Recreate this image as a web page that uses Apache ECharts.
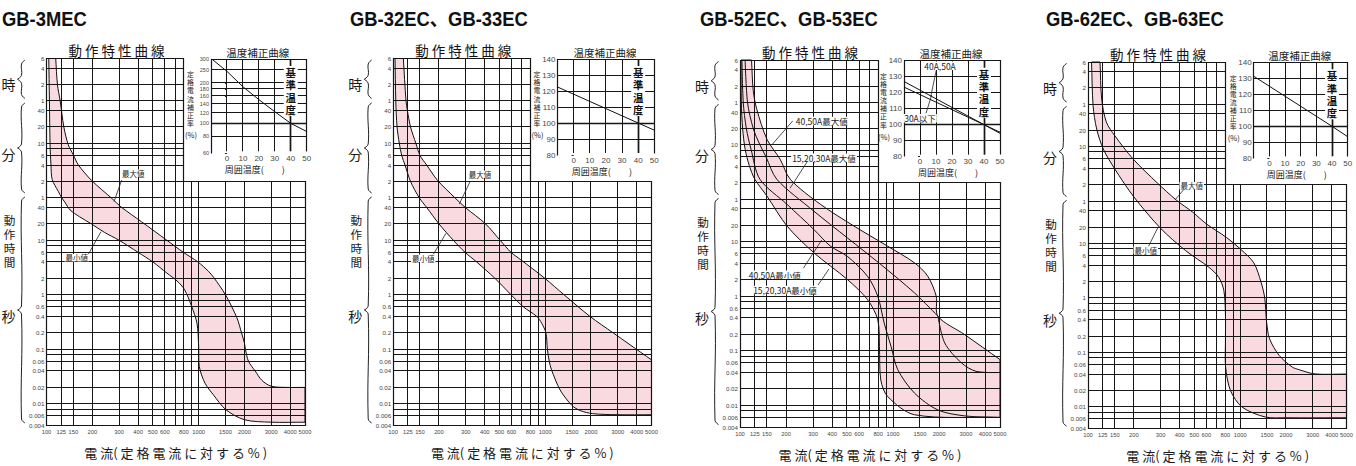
<!DOCTYPE html>
<html lang="ja">
<head>
<meta charset="utf-8">
<title>動作特性曲線</title>
<script src="https://cdn.jsdelivr.net/npm/echarts@6/dist/echarts.min.js"></script>
<style>
html,body{margin:0;padding:0;background:#ffffff;}
#chart{width:1356px;height:466px;}
</style>
</head>
<body>
<div id="chart"></div>
<script>
// ================= DATA =================
// main chart: current (% of rated) vs operating time (seconds)
const X_TICKS = [100,125,150,200,300,400,500,600,800,1000,1500,2000,3000,4000,5000];
const X_TICK_LABELS = ['100','125','150','200','300','400','500','600','800','1000','1500','2000','3000','4000','5000'];
const X_GRID = [125,150,200,300,400,500,600,700,800,900,1000,1500,2000,3000,4000];
const Y_TICKS = [21600,14400,7200,3600,2400,1200,600,360,240,120,60,40,20,10,6,4,2,1,0.6,0.4,0.2,0.1,0.06,0.04,0.02,0.01,0.006,0.004];
const Y_TICK_LABELS = ['6','4','2','1','40','20','10','6','4','2','1','40','20','10','6','4','2','1','0.6','0.4','0.2','0.1','0.06','0.04','0.02','0.01','0.006','0.004'];
const Y_GRID = [14400,7200,3600,2400,1200,600,480,360,240,120,60,40,20,10,8,6,4,2,1,0.8,0.6,0.4,0.2,0.1,0.08,0.06,0.04,0.02,0.01,0.008,0.006];
const X_MIN = 100, X_MAX = 5000, Y_MIN = 0.004, Y_MAX = 21600, CUT_X = 800, CUT_Y = 120;

// temperature correction insets
const T_X_TICKS = [0,10,20,30,40,50];
const T_X_GRID = [0,10,20,30,40];
const T_X_MIN = -10, T_X_MAX = 50, T_REF_X = 40, T_REF_Y = 100;
const T1_Y_TICKS = [60,80,100,120,140,160,180,200,250,300];
const T_Y_TICKS = [80,90,100,110,120,130,140];

// GB-3MEC
const P1_MAX = [[115,21600],[118,7200],[123,3600],[130,1200],[139,565],[150,370],[162,240],[198,125],[270,58],[312,40],[420,22],[618,10],[794,6],[990,4],[1160,2.7],[1253,2.1],[1500,1],[1783,0.38],[1914,0.2],[2000,0.13],[2030,0.1],[2127,0.06],[2354,0.04],[2600,0.027],[3000,0.021],[3800,0.02],[5000,0.02]];
const P1_MIN = [[103.5,21600],[104.5,3600],[105.5,600],[107,240],[109,130],[119.6,78.6],[126,60],[132,50],[142.8,36],[165,27],[197,20],[240,14],[300,10],[400,6],[500,4],[618,2.5],[720,1.8],[808,1.24],[900,0.61],[975,0.3],[1000,0.113],[1010,0.048],[1100,0.024],[1250,0.0146],[1510,0.0078],[2000,0.0051],[3000,0.0046],[5000,0.0046]];
const P1_TEMP = [[-9.5,300],[0,243],[10,187],[20,150],[30,122],[40,100],[50,87]];

// GB-32EC, GB-33EC
const P2_MAX = [[116.6,21600],[121.4,3600],[124,2400],[130,1200],[141,600],[150,360],[166,240],[196,125],[255,60],[298,40],[405,20],[505,10],[596,6],[690,4.4],[995,2],[1330,1],[1972,0.4],[2800,0.2],[3613,0.121],[5000,0.064]];
const P2_MIN = [[102.8,21600],[104,3600],[106,1200],[109.7,600],[113.7,360],[119.6,240],[130,120],[148.5,60],[166,40],[200,20],[248.6,10],[297,6],[354,4],[467,2],[596,1],[718,0.6],[880,0.4],[948,0.3],[1010,0.2],[1033,0.1],[1063,0.06],[1100,0.042],[1252,0.018],[1500,0.0093],[1700,0.0075],[2050,0.0066],[3000,0.0063],[5000,0.0063]];
const P2_TEMP = [[-10,122.5],[40,100],[50,95.5]];

// GB-52EC, GB-53EC
const P3_MAX_4050 = [[119,21600],[122,6000],[128.8,2680],[150,760],[183,326],[213,140],[336,48.5],[556,19.4],[922,8.3],[1383,4.1],[1687,2.33],[1916,1],[1966,0.43],[2178,0.139],[2800,0.06],[3490,0.042],[5000,0.04]];
const P3_MAX_1530 = [[108,21600],[112,3600],[122,1200],[135,600],[148,360],[174,140],[304,36.4],[503,11.8],[832,3.83],[1383,1.15],[1966,0.43],[2940,0.198],[5000,0.069]];
const P3_MIN_4050 = [[103,21600],[105,3600],[110,1200],[118,500],[135,140],[203,48.5],[304,16.8],[390,8.3],[503,5.4],[681,2.33],[795,1],[876,0.32],[971,0.12],[1074,0.045],[1383,0.0167],[1966,0.0082],[2940,0.0064],[5000,0.006]];
const P3_MIN_1530 = [[101.5,21600],[102,3600],[104,1200],[108,500],[115,250],[125,140],[150,69],[203,19.4],[304,6.28],[503,2.03],[681,0.87],[795,0.37],[815,0.12],[832,0.029],[922,0.0145],[1383,0.0067],[5000,0.006]];
const P3_TEMP_4050 = [[-10,127],[40,100],[50,94.6]];
const P3_TEMP_30 = [[-10,123.5],[40,100],[50,95.3]];

// GB-62EC, GB-63EC
const P4_MAX = [[120,21600],[123,4500],[132,1700],[150,955],[198,357],[285,130],[380,63],[489,37.4],[600,22.9],[810,13],[1020,7.6],[1230,4.4],[1372,1.94],[1450,1],[1490,0.37],[1560,0.178],[1807,0.0876],[2200,0.0537],[2447,0.048],[3100,0.0402],[5000,0.04]];
const P4_MIN = [[105.5,21600],[108,3400],[114,1270],[126,544],[150,234],[200,72],[300,19],[438,7.4],[623,3.66],[723,2.4],[781,1.37],[800,0.51],[800,0.15],[802,0.054],[863,0.02],[1029,0.0099],[1463,0.0065],[2000,0.0063],[5000,0.0063]];
const P4_TEMP = [[-10,131.3],[40,100],[50,93.5]];

// ================= STYLE =================
const PINK = '#f9dae0';
const INK = '#111111';
const GRID_C = '#161616';
const LABEL_C = '#474747';
const NUM_FONT = "'Liberation Sans',Arial,sans-serif";
const CJK = "'Noto Sans CJK JP','Noto Sans CJK SC',sans-serif";
const SMOOTH = 0.3;

function splitAtShared(a, b) {
  const ia = a.findIndex(p => b.some(q => q[0] === p[0] && q[1] === p[1]));
  const ib = b.findIndex(q => q[0] === a[ia][0] && q[1] === a[ia][1]);
  return { upper: a.slice(0, ia + 1).concat(b.slice(ib + 1)), restA: a.slice(ia), restB: b.slice(0, ib + 1) };
}
const P3_SPLIT = splitAtShared(P3_MAX_4050, P3_MAX_1530);

const PANELS = [
  { title: 'GB-3MEC', titleX: 2,
    main: { left: 46.5, top: 58.5, width: 258.5, height: 367 },
    inset: { left: 211, top: 59, width: 95.7, height: 94.3 },
    tLog: true, tTicks: T1_Y_TICKS, tFont: 5.5,
    fillUpper: P1_MAX, fillLower: P1_MIN, inner: [], temp: [P1_TEMP],
    notes: [
      { t: '最大値', x: 133.3, y: 173.3, l: [121.7, 180, 114, 201.7] },
      { t: '最小値', x: 76.7, y: 257.7, l: [88.3, 254.3, 101, 231.7] }
    ] },
  { title: 'GB-32EC、GB-33EC', titleX: 350,
    main: { left: 393.2, top: 58.5, width: 258.3, height: 367 },
    inset: { left: 557.5, top: 59, width: 96.8, height: 96 },
    tLog: false, tTicks: T_Y_TICKS, tFont: 8,
    fillUpper: P2_MAX, fillLower: P2_MIN, inner: [], temp: [P2_TEMP],
    notes: [
      { t: '最大値', x: 480, y: 174.3, l: [470, 181.7, 459.3, 204] },
      { t: '最小値', x: 423.3, y: 258.3, l: [433.3, 254.3, 446, 233.3] }
    ] },
  { title: 'GB-52EC、GB-53EC', titleX: 700,
    main: { left: 740, top: 60, width: 260, height: 367 },
    inset: { left: 904, top: 60.7, width: 96, height: 96 },
    tLog: false, tTicks: T_Y_TICKS, tFont: 8,
    fillUpper: P3_SPLIT.upper, fillLower: P3_MIN_1530,
    inner: [P3_SPLIT.restA, P3_SPLIT.restB, P3_MIN_4050],
    temp: [P3_TEMP_4050, P3_TEMP_30],
    notes: [
      { t: '40,50A最大値', x: 821.7, y: 121, l: [792.7, 121, 771.7, 145], big: true },
      { t: '15,20,30A最大値', x: 824, y: 157.7, l: [808.3, 160, 790, 188.3], big: true },
      { t: '40,50A最小値', x: 774.7, y: 274.7, l: [803.3, 268.3, 821.7, 240], big: true },
      { t: '15,20,30A最小値', x: 785, y: 290, l: [818, 285, 829, 269], big: true },
      { t: '40A,50A', x: 940, y: 65.7, l: [936.7, 68.3, 930.7, 96.7], big: true },
      { t: '30A以下', x: 920, y: 118.3, l: [926, 113.3, 931.7, 95], big: true }
    ] },
  { title: 'GB-62EC、GB-63EC', titleX: 1046,
    main: { left: 1088, top: 62, width: 259.5, height: 366.5 },
    inset: { left: 1253.7, top: 62.3, width: 94, height: 96 },
    tLog: false, tTicks: T_Y_TICKS, tFont: 8,
    fillUpper: P4_MAX, fillLower: P4_MIN, inner: [], temp: [P4_TEMP],
    notes: [
      { t: '最大値', x: 1191.7, y: 185.7, l: [1183.3, 190, 1175, 200] },
      { t: '最小値', x: 1145.8, y: 250, l: [1148.3, 246.7, 1158.3, 226.7] }
    ] }
];

// ================= HELPERS =================
function pickLabel(v, vals, labels) {
  let best = 0, bd = Infinity;
  for (let i = 0; i < vals.length; i++) {
    const d = Math.abs(Math.log(vals[i]) - Math.log(v));
    if (d < bd) { bd = d; best = i; }
  }
  return labels[best];
}
// keep custom tick values strictly inside the axis extent (floating-point safety)
function inside(vals, lo, hi) {
  return vals.map(v => v >= hi ? hi - Math.abs(hi) * 1e-9 : (v <= lo ? lo + Math.abs(lo) * 1e-9 : v));
}
const crisp = v => Math.round(v - 0.5) + 0.5;
function seg(x1, y1, x2, y2, w, c) {
  return { type: 'line', silent: true, shape: { x1, y1, x2, y2 }, style: { stroke: c || GRID_C, lineWidth: w || 1, fill: 'none' } };
}

function mainRenderer(cfg) {
  return function (params, api) {
    const pt = d => api.coord(d);
    const children = [];
    const u = cfg.fillUpper.map(pt);
    const l = cfg.fillLower.map(pt).reverse();
    const ring = [u[0]].concat(u, [u[u.length - 1], l[0]], l, [l[l.length - 1]]);
    children.push({ type: 'polygon', silent: true, shape: { points: ring, smooth: SMOOTH }, style: { fill: PINK, stroke: 'none' } });
    X_GRID.forEach(v => {
      const top = v <= CUT_X ? Y_MAX : CUT_Y;
      const a = pt([v, Y_MIN]), b = pt([v, top]);
      const x = crisp(a[0]);
      children.push(seg(x, a[1], x, b[1], 1));
    });
    Y_GRID.forEach(h => {
      const right = h > CUT_Y ? CUT_X : X_MAX;
      const a = pt([X_MIN, h]), b = pt([right, h]);
      const y = crisp(a[1]);
      children.push(seg(a[0], y, b[0], y, 1));
    });
    const border = [[X_MIN, Y_MIN], [X_MAX, Y_MIN], [X_MAX, CUT_Y], [CUT_X, CUT_Y], [CUT_X, Y_MAX], [X_MIN, Y_MAX]]
      .map(pt).map(p => [crisp(p[0]), crisp(p[1])]);
    children.push({ type: 'polygon', silent: true, shape: { points: border }, style: { fill: 'none', stroke: GRID_C, lineWidth: 1.2 } });
    children.push({ type: 'polygon', silent: true, shape: { points: ring, smooth: SMOOTH }, style: { fill: 'none', stroke: INK, lineWidth: 1 } });
    cfg.inner.forEach(arr => {
      children.push({ type: 'polyline', silent: true, shape: { points: arr.map(pt), smooth: SMOOTH }, style: { fill: 'none', stroke: INK, lineWidth: 1 } });
    });
    return { type: 'group', children };
  };
}

function insetRenderer(cfg) {
  return function (params, api) {
    const pt = d => api.coord(d);
    const ticks = cfg.tTicks;
    const yMin = ticks[0], yMax = ticks[ticks.length - 1];
    const children = [];
    T_X_GRID.forEach(v => {
      const a = pt([v, yMin]), b = pt([v, yMax]);
      const x = crisp(a[0]);
      children.push(seg(x, a[1] - 2, x, b[1], v === T_REF_X ? 1.7 : 1));
    });
    ticks.filter(h => h > yMin && h < yMax).forEach(h => {
      const a = pt([T_X_MIN, h]), b = pt([T_X_MAX, h]);
      const y = crisp(a[1]);
      children.push(seg(a[0], y, b[0], y, h === T_REF_Y ? 1.7 : 1));
    });
    const border = [[T_X_MIN, yMin], [T_X_MIN, yMax], [T_X_MAX, yMax], [T_X_MAX, yMin]].map(pt).map(p => [crisp(p[0]), crisp(p[1])]);
    border[3][1] -= 2;
    children.push({ type: 'polyline', silent: true, shape: { points: border }, style: { fill: 'none', stroke: GRID_C, lineWidth: 1.2 } });
    cfg.temp.forEach(arr => {
      children.push({ type: 'polyline', silent: true, shape: { points: arr.map(pt) }, style: { fill: 'none', stroke: INK, lineWidth: 1 } });
    });
    return { type: 'group', children };
  };
}

function txt(text, x, y, s) {
  return { type: 'text', z: 100, silent: true,
    style: Object.assign({ text, x, y, fill: '#1a1a1a', font: '12px ' + CJK, align: 'center', verticalAlign: 'middle' }, s || {}) };
}
function brace(xr, y1, y2) {
  const xs = xr - 3.5, xc = xr - 7.5, ym = (y1 + y2) / 2;
  const st = { stroke: '#222', lineWidth: 1, fill: 'none' };
  return [
    { type: 'polyline', z: 100, silent: true, shape: { points: [[xr, y1], [xs, y1 + 4], [xs, ym - 4], [xc, ym]], smooth: 0.4 }, style: st },
    { type: 'polyline', z: 100, silent: true, shape: { points: [[xc, ym], [xs, ym + 4], [xs, y2 - 4], [xr, y2]], smooth: 0.4 }, style: st }
  ];
}

// ================= OPTION =================
const grids = [], xAxes = [], yAxes = [], series = [], graphics = [];

PANELS.forEach(p => {
  const M = p.main, I = p.inset;
  // main chart
  const gi = grids.length;
  grids.push({ left: M.left, top: M.top, width: M.width, height: M.height });
  xAxes.push({ gridIndex: gi, type: 'log', logBase: 10, min: X_MIN, max: X_MAX,
    axisLine: { show: false }, axisTick: { show: false }, splitLine: { show: false },
    axisLabel: { customValues: inside(X_TICKS, X_MIN, X_MAX), formatter: v => pickLabel(v, X_TICKS, X_TICK_LABELS),
      fontSize: 5.8, color: LABEL_C, margin: 3.5, fontFamily: NUM_FONT } });
  yAxes.push({ gridIndex: gi, type: 'log', logBase: 10, min: Y_MIN, max: Y_MAX,
    axisLine: { show: false }, axisTick: { show: false }, splitLine: { show: false },
    axisLabel: { customValues: inside(Y_TICKS, Y_MIN, Y_MAX), formatter: v => pickLabel(v, Y_TICKS, Y_TICK_LABELS),
      fontSize: 6.2, color: LABEL_C, margin: 2, fontFamily: NUM_FONT } });
  series.push({ type: 'custom', coordinateSystem: 'cartesian2d', xAxisIndex: gi, yAxisIndex: gi,
    data: [[X_MIN, 1]], renderItem: mainRenderer(p), silent: true, clip: false, z: 2 });

  // temperature inset
  const ti = grids.length;
  const yMin = p.tTicks[0], yMax = p.tTicks[p.tTicks.length - 1];
  grids.push({ left: I.left, top: I.top, width: I.width, height: I.height });
  xAxes.push({ gridIndex: ti, type: 'value', min: T_X_MIN, max: T_X_MAX,
    axisLine: { show: false }, axisTick: { show: false }, splitLine: { show: false },
    axisLabel: { customValues: inside(T_X_TICKS, T_X_MIN, T_X_MAX), formatter: v => String(Math.round(v)),
      fontSize: 8, color: LABEL_C, margin: 1, fontFamily: NUM_FONT } });
  yAxes.push({ gridIndex: ti, type: p.tLog ? 'log' : 'value', min: yMin, max: yMax,
    axisLine: { show: false }, splitLine: { show: false },
    axisTick: { show: true, customValues: inside(p.tTicks, yMin, yMax), length: 2, lineStyle: { color: '#222', width: 1 } },
    axisLabel: { customValues: inside(p.tTicks, yMin, yMax), formatter: v => pickLabel(v, p.tTicks, p.tTicks.map(String)),
      fontSize: p.tFont, color: LABEL_C, margin: 2, fontFamily: NUM_FONT } });
  series.push({ type: 'custom', coordinateSystem: 'cartesian2d', xAxisIndex: ti, yAxisIndex: ti,
    data: [[0, 100]], renderItem: insetRenderer(p), silent: true, clip: false, z: 2 });

  // texts
  graphics.push({ type: 'text', z: 100, silent: true, x: p.titleX, y: 19.5, scaleX: 0.92,
    style: { text: p.title, x: 0, y: 0, fill: '#111', font: "bold 20px 'Liberation Sans','Noto Sans CJK JP',sans-serif", align: 'left', verticalAlign: 'middle' } });
  graphics.push(txt('動 作 特 性 曲 線', M.left + 70, M.top - 8.5, { font: '13.5px ' + CJK, fill: '#111' }));
  graphics.push(txt('温度補正曲線', I.left + I.width / 2 - 1, I.top - 7, { font: '10.5px ' + CJK }));
  graphics.push(txt('定\n格\n電\n流\n補\n正\n率', I.left - 20.5, I.top + 39.5, { font: '6.9px ' + CJK, lineHeight: 8.1 }));
  graphics.push(txt('(%)', I.left - 20, I.top + 75.5, { font: '7.5px ' + CJK }));
  graphics.push(txt('周囲温度(　　)', I.left + I.width / 2 - 4, I.top + I.height + 16, { font: '9px ' + CJK }));
  const refX = I.left + I.width * (T_REF_X - T_X_MIN) / (T_X_MAX - T_X_MIN), refY = I.top + 32;
  graphics.push({ type: 'rect', z: 98, silent: true, shape: { x: refX - 7, y: refY - 25, width: 14, height: 50 }, style: { fill: '#ffffff', stroke: 'none' } });
  graphics.push(txt('基\n準\n温\n度', refX, refY, { font: 'bold 10.4px ' + CJK, lineHeight: 12.4, fill: '#111' }));
  graphics.push(txt('電 流( 定 格 電 流 に 対 す る % )', M.left + M.width / 2, M.top + M.height + 27, { font: '13px ' + CJK }));
  const lx = M.left - 38;
  graphics.push(txt('時', lx, M.top + 25.5, { font: '14px ' + CJK }));
  graphics.push(txt('分', lx, M.top + 95, { font: '14px ' + CJK }));
  graphics.push(txt('動\n作\n時\n間', lx + 1, M.top + 182.5, { font: '11.6px ' + CJK, lineHeight: 14 }));
  graphics.push(txt('秒', lx, M.top + 257.5, { font: '14px ' + CJK }));
  const bx = M.left - 21.5;
  graphics.push(...brace(bx, M.top + 1.5, M.top + 40));
  graphics.push(...brace(bx, M.top + 44.5, M.top + 134.5));
  graphics.push(...brace(bx, M.top + 138.5, M.top + M.height - 2.5));
  // annotations
  p.notes.forEach(n => {
    graphics.push({ type: 'line', z: 99, silent: true, shape: { x1: n.l[0], y1: n.l[1], x2: n.l[2], y2: n.l[3] }, style: { stroke: '#222', lineWidth: 0.8 } });
    graphics.push(txt(n.t, n.x, n.y, { font: (n.big ? '8.5px ' : '7.5px ') + CJK, fill: '#222', backgroundColor: '#fff', padding: [0, 1] }));
  });
});

const chart = echarts.init(document.getElementById('chart'), null, { renderer: 'svg', width: 1356, height: 466 });
chart.setOption({
  animation: false,
  backgroundColor: '#ffffff',
  grid: grids,
  xAxis: xAxes,
  yAxis: yAxes,
  series: series,
  graphic: { elements: graphics }
});
</script>
</body>
</html>
